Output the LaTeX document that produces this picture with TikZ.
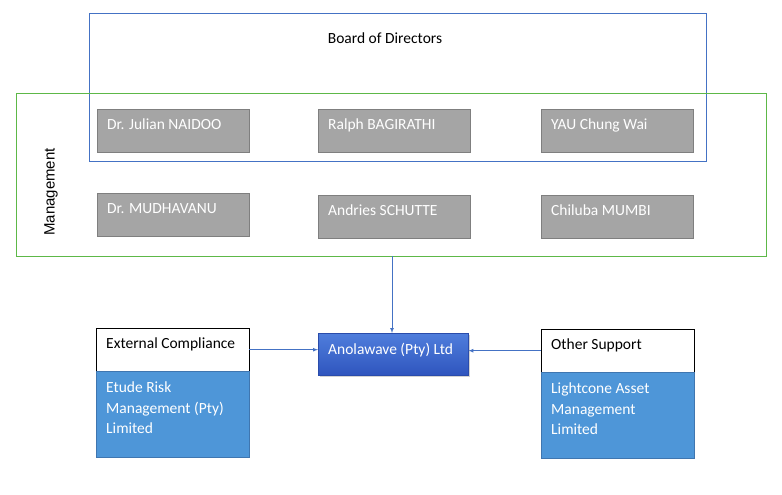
\documentclass[tikz,border=0pt]{standalone}
\usepackage{fontspec}
\setmainfont{Carlito}
\newfontfamily\arialfont{Liberation Sans}
\usetikzlibrary{shadows}

\definecolor{boardblue}{HTML}{4472C4}
\definecolor{mgmtgreen}{HTML}{5DB848}
\definecolor{boxgray}{HTML}{A5A5A5}
\definecolor{boxedge}{HTML}{7F7F7F}
\definecolor{suppblue}{HTML}{4E96D8}
\definecolor{suppedge}{HTML}{3F76B0}
\definecolor{anolatop}{HTML}{4F7EDC}
\definecolor{anolabot}{HTML}{2F55BE}

\tikzset{
  person/.style={draw=boxedge, fill=boxgray, minimum width=152pt, minimum height=43pt,
    anchor=north west, inner sep=0pt},
  plabel/.style={anchor=north west, text=white, inner sep=0pt, xshift=10pt, yshift=-10pt},
  headbox/.style={draw=black, fill=white, minimum width=153pt, minimum height=43pt,
    anchor=north west, inner sep=0pt},
  suppbox/.style={draw=suppedge, fill=suppblue, minimum width=153pt, minimum height=86pt,
    anchor=north west, inner sep=0pt},
  link/.style={draw=boardblue, -latex, line width=0.7pt}
}

\begin{document}
\begin{tikzpicture}[x=1pt, y=-1pt, font=\fontsize{15.5}{20.5}\selectfont]
  \useasboundingbox (0,0) rectangle (782,495);

  % board and management frames
  \draw[boardblue, line width=0.7pt] (89,13) rectangle (706,161);
  \node (board) at (385,38) {Board of Directors};
  \draw[mgmtgreen, line width=0.7pt] (16,93) rectangle (766,256);
  \node[rotate=90, font=\arialfont\fontsize{15}{18}\selectfont] (mgmt) at (51,192) {Management};
  \coordinate (mgmtbottom) at (392,256);

  % people
  \node[person, label={[plabel]north west:Dr. Julian NAIDOO}] (naidoo) at (97,109) {};
  \node[person, label={[plabel]north west:Ralph BAGIRATHI}] (bagirathi) at (318,109) {};
  \node[person, label={[plabel]north west:YAU Chung Wai}] (yau) at (541,109) {};
  \node[person, label={[plabel]north west:Dr. MUDHAVANU}] (mudhavanu) at (97,193) {};
  \node[person, label={[plabel]north west:Andries SCHUTTE}] (schutte) at (318,195) {};
  \node[person, label={[plabel]north west:Chiluba MUMBI}] (mumbi) at (541,195) {};

  % company
  \node[anchor=north west, minimum width=150pt, minimum height=42pt, inner sep=0pt,
    top color=anolatop, bottom color=anolabot, draw=anolabot!90!black,
    drop shadow={shadow xshift=1.5pt, shadow yshift=-2pt, opacity=0.35},
    label={[plabel]north west:Anolawave (Pty) Ltd}] (anola) at (318,333) {};

  % support
  \node[headbox, label={[plabel, text=black]north west:External Compliance}] (extcomp) at (96,328) {};
  \node[suppbox, label={[plabel, align=left, yshift=-1pt]north west:Etude Risk\\Management (Pty)\\Limited}] (etude) at (96,371) {};
  \node[headbox, label={[plabel, text=black]north west:Other Support}] (othsupp) at (541,329) {};
  \node[suppbox, label={[plabel, align=left, yshift=-1pt]north west:Lightcone Asset\\Management\\Limited}] (lightcone) at (541,372) {};

  \draw[link] (mgmtbottom) -- (anola.north -| mgmtbottom);
  \draw[link] (extcomp.east) -- (anola.west |- extcomp.east);
  \draw[link] (othsupp.west) -- (anola.east |- othsupp.west);
\end{tikzpicture}
\end{document}
